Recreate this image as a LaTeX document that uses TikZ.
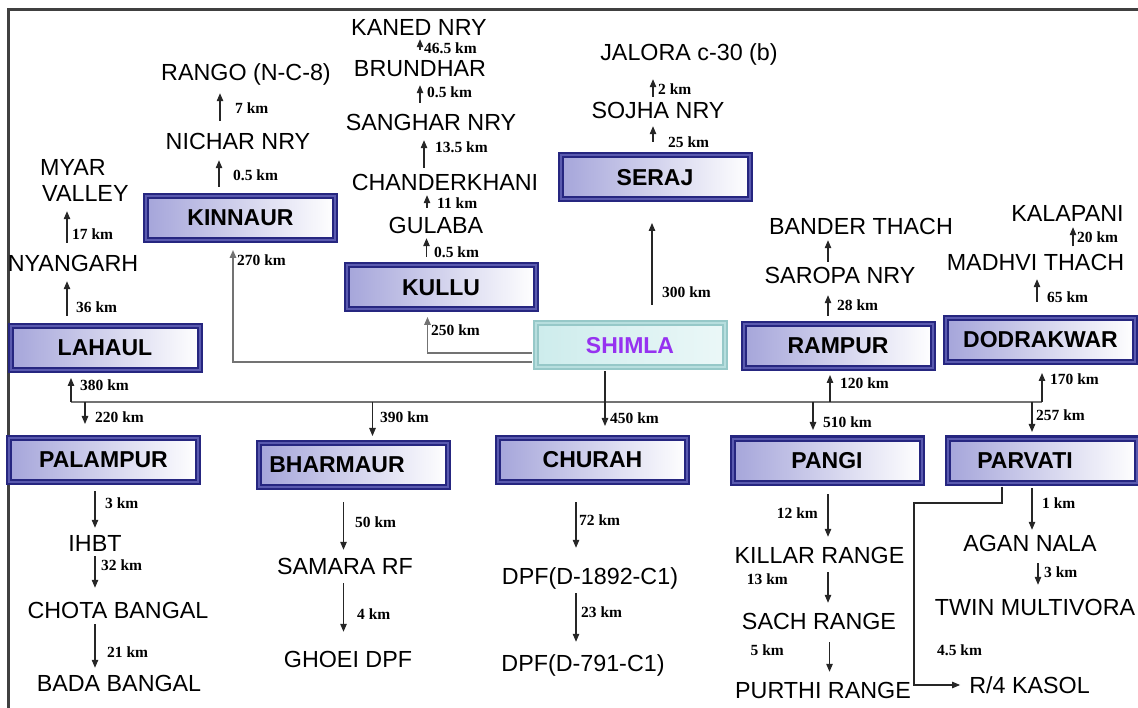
\documentclass[tikz,border=0pt]{standalone}
\usepackage{fontspec}
\setmainfont{Liberation Sans}
\newfontfamily\kmfont{Liberation Serif}
\usetikzlibrary{arrows.meta}
\definecolor{boxnavy}{RGB}{38,38,128}
\definecolor{boxmid}{RGB}{90,90,175}
\definecolor{boxfill}{RGB}{165,165,218}
\definecolor{shifill}{RGB}{205,236,236}
\definecolor{shiedge}{RGB}{150,200,200}
\definecolor{shitext}{RGB}{150,50,240}

\begin{document}
\begin{tikzpicture}[
      x=1pt,y=-1pt,
      box/.style={draw=boxnavy,line width=2pt,double=boxmid,double distance=2pt,
                  left color=boxfill,right color=white,inner sep=0pt,
                  minimum width=189pt,minimum height=44pt,
                  font=\fontsize{23}{26}\selectfont\bfseries},
      hub/.style={box,draw=shiedge,double=shifill!60!shiedge,
                  left color=shifill,right color=shifill!40,
                  text=shitext},
      place/.style={font=\fontsize{23.3}{26}\selectfont,inner sep=1pt,
                    text height=17pt,text depth=0pt},
      km/.style={font=\fontsize{15.5}{17}\selectfont\kmfont\bfseries,
                 inner sep=0pt,anchor=west},
      arr/.style={-{Triangle[length=8pt,width=6.5pt]},line width=1.1pt,draw=black!85},
      wire/.style={line width=1.6pt,draw=black!55},
      gap/.style 2 args={shorten <=#1pt,shorten >=#2pt},
      frame/.style={line width=3pt,draw=black!75}
    ]
    \useasboundingbox (0,0) rectangle (1138,708);
    \draw[frame] (1138,10) -- (8,10) -- (8,708);

    % district boxes
    \node[box] (kin) at (240.5,218) {KINNAUR};
    \node[box] (lah) at (105,348) {LAHAUL};
    \node[box] (kul) at (441,287.5) {KULLU};
    \node[box] (ser) at (655,177.5) {SERAJ};
    \node[hub] (shi) at (630,345.5) {SHIMLA};
    \node[box] (ram) at (838,346) {RAMPUR};
    \node[box] (dod) at (1040.5,340) {DODRAKWAR};
    \node[box] (pal) at (103.5,460) {PALAMPUR};
    \node[box] (bha) at (353.5,465) {\raisebox{-1pt}{BHARMAUR}\hspace*{33pt}};
    \node[box] (chu) at (592.5,460) {CHURAH};
    \node[box] (pan) at (827,460.5) {PANGI};
    \node[box] (par) at (1042.5,460.5) {PARVATI\hspace*{35pt}};

    % sites
    \node[place] (rango) at (246,72) {RANGO (N-C-8)};
    \node[place] (nichar) at (238,141) {NICHAR NRY};
    \node[place,anchor=west] (myar) at (39,167) {MYAR};
    \node[place,anchor=west] (valley) at (41,193.5) {VALLEY};
    \node[place] (nyang) at (73,263) {NYANGARH};
    \node[place] (kaned) at (419,27) {KANED NRY};
    \node[place] (brund) at (420,68) {BRUNDHAR};
    \node[place] (sangh) at (431,122) {SANGHAR NRY};
    \node[place] (chand) at (445,182) {CHANDERKHANI};
    \node[place] (gulab) at (436,225) {GULABA};
    \node[place] (jalora) at (689,52) {JALORA c-30 (b)};
    \node[place] (sojha) at (658,110) {SOJHA NRY};
    \node[place] (bander) at (861,226) {BANDER THACH};
    \node[place] (saropa) at (840,275.5) {SAROPA NRY};
    \node[place] (kala) at (1067.5,213.5) {KALAPANI};
    \node[place] (madhvi) at (1035.5,262.5) {MADHVI THACH};
    \node[place] (ihbt) at (95,543) {IHBT};
    \node[place] (chota) at (118,610) {CHOTA BANGAL};
    \node[place] (bada) at (119,683) {BADA BANGAL};
    \node[place] (samara) at (345,566) {SAMARA RF};
    \node[place] (ghoei) at (348,659) {GHOEI DPF};
    \node[place] (dpfa) at (590,576) {DPF(D-1892-C1)};
    \node[place] (dpfb) at (583,663) {DPF(D-791-C1)};
    \node[place] (killar) at (819.5,555) {KILLAR RANGE};
    \node[place] (sach) at (819,621) {SACH RANGE};
    \node[place] (purthi) at (823,690) {PURTHI RANGE};
    \node[place] (agan) at (1030,543) {AGAN NALA};
    \node[place] (twin) at (1035,607) {TWIN MULTIVORA};
    \node[place] (kasol) at (1029.5,685) {R/4 KASOL};

    % distances
    \node[km] (d7) at (235,108) {7 km};
    \node[km] (d05a) at (233,175) {0.5 km};
    \node[km] (d17) at (72,234) {17 km};
    \node[km] (d36) at (76,307) {36 km};
    \node[km] (d270) at (237,260) {270 km};
    \node[km] (d465) at (424,48) {46.5 km};
    \node[km] (d05b) at (427,92) {0.5 km};
    \node[km] (d135) at (435,147) {13.5 km};
    \node[km] (d11) at (437,203) {11 km};
    \node[km] (d05c) at (434,252) {0.5 km};
    \node[km] (d250) at (431,330) {250 km};
    \node[km] (d300) at (662,292) {300 km};
    \node[km] (d2) at (658,89) {2 km};
    \node[km] (d25) at (668,142) {25 km};
    \node[km] (d28) at (837,305) {28 km};
    \node[km] (d20) at (1077,237) {20 km};
    \node[km] (d65) at (1047,297) {65 km};
    \node[km] (d120) at (840,383) {120 km};
    \node[km] (d170) at (1050,379) {170 km};
    \node[km] (d380) at (80,385) {380 km};
    \node[km] (d220) at (95,417) {220 km};
    \node[km] (d390) at (380,417) {390 km};
    \node[km] (d450) at (610,418) {450 km};
    \node[km] (d510) at (823,422) {510 km};
    \node[km] (d257) at (1036,415) {257 km};
    \node[km] (d3a) at (105,503) {3 km};
    \node[km] (d32) at (101,565) {32 km};
    \node[km] (d21) at (107,652) {21 km};
    \node[km] (d50) at (355,522) {50 km};
    \node[km] (d4) at (357,614) {4 km};
    \node[km] (d72) at (579,520) {72 km};
    \node[km] (d23) at (581,612) {23 km};
    \node[km,anchor=east] (d12) at (818,513) {12 km};
    \node[km,anchor=east] (d13) at (788,579) {13 km};
    \node[km,anchor=east] (d5) at (784,650) {5 km};
    \node[km] (d45) at (937,650) {4.5 km};
    \node[km] (d1) at (1042,503) {1 km};
    \node[km] (d3b) at (1044,572) {3 km};

    % upward chains
    \draw[arr,gap={8}{9.5}] (kin.north -| 219,0) -- (nichar.south -| 219,0);
    \draw[arr,gap={10.5}{11.5}] (nichar.north -| 220,0) -- (rango.south -| 220,0);
    \draw[arr,gap={10.5}{8}] (nyang.north -| 67,0) -- (valley.south -| 67,0);
    \draw[arr,gap={9}{8.5}] (lah.north -| 67,0) -- (nyang.south -| 67,0);
    \draw[arr,gap={7.5}{3.5}] (kul.north -| 426.5,0) -- (gulab.south -| 426.5,0);
    \draw[arr,gap={7.5}{3.5}] (gulab.north -| 427,0) -- (chand.south -| 427,0);
    \draw[arr,gap={4.5}{8.5}] (chand.north -| 424,0) -- (sangh.south -| 424,0);
    \draw[arr,gap={9.5}{7.5}] (sangh.north -| 420,0) -- (brund.south -| 420,0);
    \draw[arr,gap={8.5}{2.5}] (brund.north -| 420,0) -- (kaned.south -| 420,0);
    \draw[arr,gap={12.5}{6.5}] (ser.north -| 653,0) -- (sojha.south -| 653,0);
    \draw[arr,gap={3.5}{17.5}] (sojha.north -| 653,0) -- (jalora.south -| 653,0);
    \draw[arr,gap={17.5}{22.5}] (shi.north -| 652,0) -- (ser.south -| 652,0);
    \draw[arr,gap={7}{10}] (ram.north -| 828,0) -- (saropa.south -| 828,0);
    \draw[arr,gap={4}{4.5}] (saropa.north -| 828,0) -- (bander.south -| 828,0);
    \draw[arr,gap={15}{7}] (dod.north -| 1037,0) -- (madhvi.south -| 1037,0);
    \draw[arr,gap={6.5}{4}] (madhvi.north -| 1073,0) -- (kala.south -| 1073,0);

    % from Shimla
    \draw[arr,wire,gap={3}{9}] (shi.west |- 0,362) -| (kin.south -| 233,0);
    \draw[arr,wire,gap={3}{6.5}] (shi.west |- 0,353) -| (kul.south -| 427.5,0);
    \coordinate (busL) at (71,402);
    \coordinate (busR) at (1042,402);
    \draw[wire] (busL) -- (busR);
    \draw[arr,shorten >=7pt] (busL) -- (lah.south -| busL);
    \draw[arr,shorten >=13pt] (busL -| 85,0) -- (pal.north -| 85,0);
    \draw[arr,shorten >=6pt] (busL -| 372.5,0) -- (bha.north -| 372.5,0);
    \draw[arr,gap={3}{11}] (shi.south -| 605,0) -- (chu.north -| 605,0);
    \draw[arr,shorten >=7.5pt] (busL -| 813,0) -- (pan.north -| 813,0);
    \draw[arr,shorten >=6pt] (busL -| 830,0) -- (ram.south -| 830,0);
    \draw[arr,shorten >=5.5pt] (busL -| 1032,0) -- (par.north -| 1032,0);
    \draw[arr,shorten >=10pt] (busR) -- (dod.south -| busR);

    % downward chains
    \draw[arr,gap={8}{5.5}] (pal.south -| 95,0) -- (ihbt.north -| 95,0);
    \draw[arr,gap={3.5}{12.5}] (ihbt.south -| 95,0) -- (chota.north -| 95,0);
    \draw[arr,gap={4.5}{5.5}] (chota.south -| 95,0) -- (bada.north -| 95,0);
    \draw[arr,gap={14}{6.5}] (bha.south -| 343.5,0) -- (samara.north -| 343.5,0);
    \draw[arr,gap={7.5}{17.5}] (samara.south -| 343.5,0) -- (ghoei.north -| 343.5,0);
    \draw[arr,gap={19}{18.5}] (chu.south -| 576,0) -- (dpfa.north -| 576,0);
    \draw[arr,gap={7.5}{11.5}] (dpfa.south -| 576,0) -- (dpfb.north -| 576,0);
    \draw[arr,gap={10.5}{8.5}] (pan.south -| 828,0) -- (killar.north -| 828,0);
    \draw[arr,gap={7.5}{8.5}] (killar.south -| 828,0) -- (sach.north -| 828,0);
    \draw[arr,gap={11.5}{8.5}] (sach.south -| 829.5,0) -- (purthi.north -| 829.5,0);
    \draw[arr,gap={4.5}{3.5}] (par.south -| 1032,0) -- (agan.north -| 1032,0);
    \draw[arr,gap={10.5}{12.5}] (agan.south -| 1038,0) -- (twin.north -| 1038,0);
    \coordinate (kbend) at (914,503);
    \draw[arr,gap={3}{8}] (par.south -| 1002,0) |- (kbend) |- (kasol.west);
  \end{tikzpicture}
\end{document}
